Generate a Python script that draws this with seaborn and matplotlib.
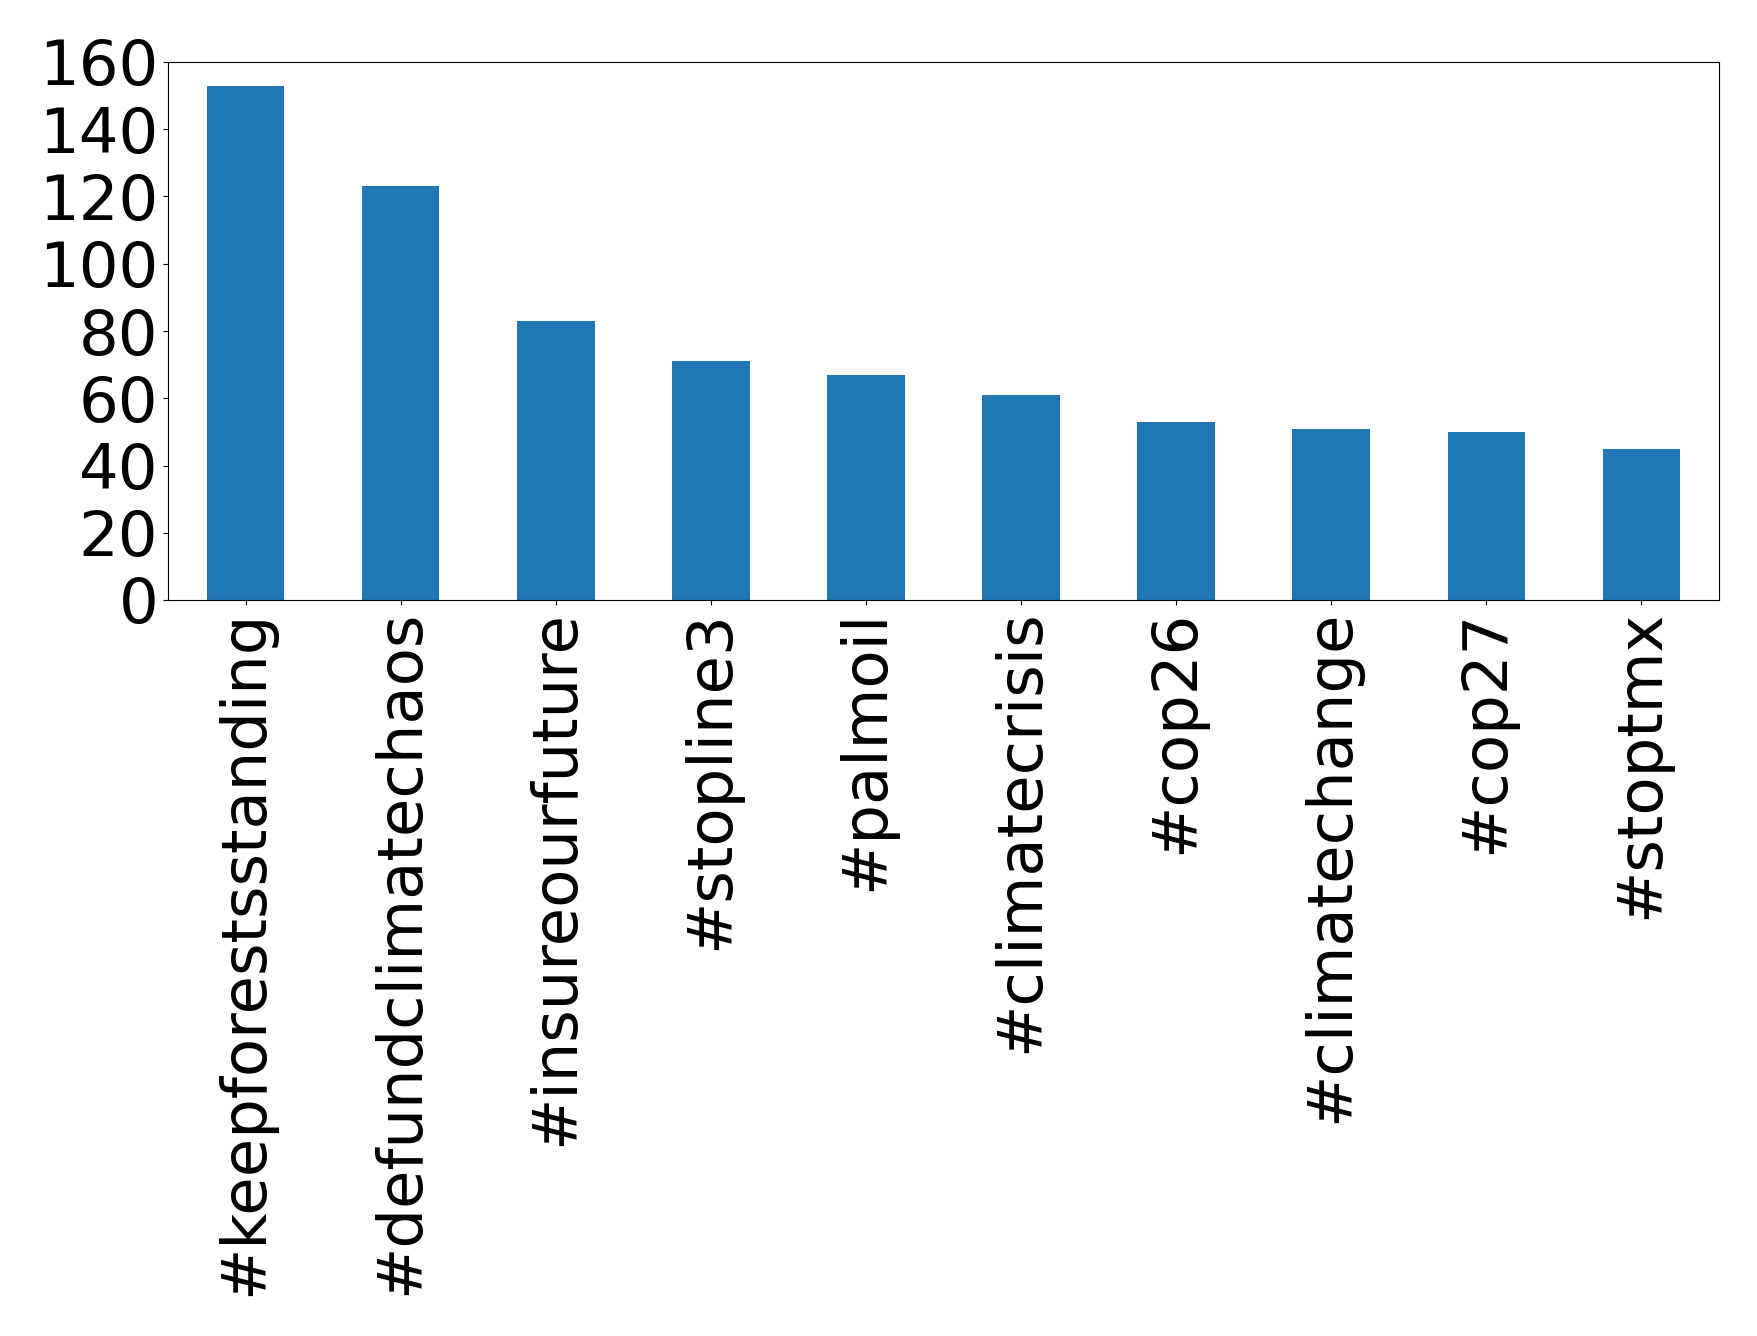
import matplotlib
matplotlib.use("Agg")
import matplotlib.pyplot as plt
import seaborn as sns
import pandas as pd

hashtags = ["#keepforestsstanding", "#defundclimatechaos", "#insureourfuture",
            "#stopline3", "#palmoil", "#climatecrisis", "#cop26",
            "#climatechange", "#cop27", "#stoptmx"]
counts = [153, 123, 83, 71, 67, 61, 53, 51, 50, 45]

df = pd.DataFrame({"hashtag": hashtags, "count": counts})

plt.rcParams['font.family'] = ['DejaVu Sans']
fig = plt.figure(figsize=(17.58, 13.36), dpi=100)
ax = fig.add_axes([168/1758, 1-600/1336, (1719-168)/1758, (600-62)/1336])
sns.barplot(data=df, x="hashtag", y="count", color="#1f77b4", saturation=1,
            width=0.5, ax=ax)
ax.set_xlim(-0.5, 9.5)
ax.set_ylim(0, 160)
ax.set_yticks(range(0, 161, 20))
ax.set_xlabel("")
ax.set_ylabel("")
ax.tick_params(axis="both", labelsize=45)
ax.tick_params(axis="x", rotation=90)
fig.savefig("out.png", dpi=100)
